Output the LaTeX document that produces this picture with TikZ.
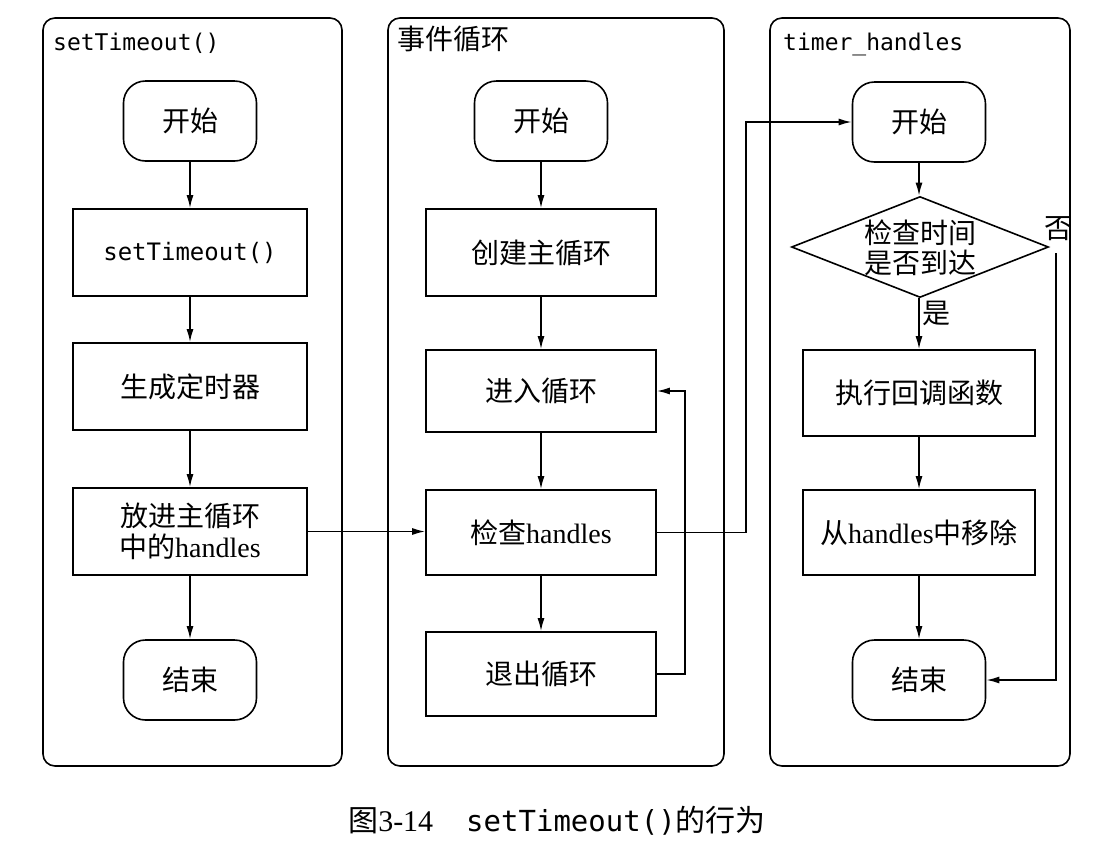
\documentclass[tikz,border=0pt]{standalone}
\usepackage{fontspec}
\setmainfont{Liberation Serif}
\setmonofont{DejaVu Sans Mono}
\newfontfamily\cjk{Noto Sans CJK SC}
\usetikzlibrary{shapes.geometric,arrows.meta}
\begin{document}
\begin{tikzpicture}[x=1pt,y=-1pt,
  lane/.style={draw, line width=1.6pt, rounded corners=12pt, inner sep=0pt},
  box/.style={draw, line width=1.6pt, minimum width=234pt, minimum height=87pt, inner sep=0pt,
    font=\fontsize{28}{31}\selectfont, align=center},
  term/.style={draw, line width=1.6pt, rounded corners=22pt, minimum width=133pt, minimum height=80pt,
    inner sep=0pt, font=\fontsize{28}{31}\selectfont},
  dia/.style={draw, diamond, line width=1.6pt, minimum width=257pt, minimum height=101pt, inner sep=0pt},
  txt/.style={font=\fontsize{28}{30}\selectfont, align=center, inner sep=0pt},
  ttl/.style={anchor=base west, inner sep=0pt},
  arr/.style={-{Latex[length=13pt,width=7pt]}, line width=1.6pt},
  ln/.style={line width=1.6pt}
]
\useasboundingbox (0,0) rectangle (1118,852);
% lanes
\node[lane, minimum width=299pt, minimum height=748pt] (L1) at (192.5,392) {};
\node[lane, minimum width=336pt, minimum height=748pt] (L2) at (556,392) {};
\node[lane, minimum width=300pt, minimum height=748pt] (L3) at (920,392) {};
\node[ttl, font=\ttfamily\fontsize{23}{25}\selectfont] (T1) at (53,50) {setTimeout()};
\node[ttl, font=\fontsize{28}{30}\selectfont] (T2) at (397,49) {\cjk 事件循环};
\node[ttl, font=\ttfamily\fontsize{23}{25}\selectfont] (T3) at (783,50) {timer\_handles};

% lane 1
\node[term] (s1) at (190,121) {\cjk 开始};
\node[box, font=\ttfamily\fontsize{24}{26}\selectfont] (s2) at (190,252.5) {setTimeout()};
\node[box] (s3) at (190,386.5) {\cjk 生成定时器};
\node[box] (s4) at (190,531.5) {{\cjk 放进主循环}\\{\cjk 中的}handles};
\node[term] (s5) at (190,680) {\cjk 结束};
\draw[arr] (s1) -- (s2);
\draw[arr] (s2) -- (s3);
\draw[arr] (s3) -- (s4);
\draw[arr] (s4) -- (s5);

% lane 2
\node[term] (e1) at (541,121) {\cjk 开始};
\node[box, minimum width=230pt] (e2) at (541,252.5) {\cjk 创建主循环};
\node[box, minimum width=230pt, minimum height=82pt] (e3) at (541,391) {\cjk 进入循环};
\node[box, minimum width=230pt, minimum height=85pt] (e4) at (541,532.5) {{\cjk 检查}handles};
\node[box, minimum width=230pt, minimum height=84pt] (e5) at (541,674) {\cjk 退出循环};
\draw[arr] (e1) -- (e2);
\draw[arr] (e2) -- (e3);
\draw[arr] (e3) -- (e4);
\draw[arr] (e4) -- (e5);
\draw[arr] (e5.east) -- ++(28,0) |- (e3.east);
\draw[arr] (s4.east) -- (s4.east -| e4.west);

% lane 3
\node[term] (t1) at (919,122) {\cjk 开始};
\node[dia] (d) at (920,247) {};
\node[txt] (dt) at (920,248) {{\cjk 检查时间}\\{\cjk 是否到达}};
\node[box, minimum width=232pt, minimum height=86pt] (t3) at (919,393) {\cjk 执行回调函数};
\node[box, minimum width=232pt, minimum height=85pt] (t4) at (919,532.5) {{\cjk 从}handles{\cjk 中移除}};
\node[term] (t5) at (919,680) {\cjk 结束};
\draw[arr] (e4.east) -- ++(89,0) |- (t1.west);
\draw[arr] (t1.south) -- (t1.south |- d.north);
\draw[arr] (t1.south |- d.south) -- node[pos=0.3, anchor=west, txt, xshift=3pt] (yes) {\cjk 是} (t3.north);
\draw[arr] (t3) -- (t4);
\draw[arr] (t4) -- (t5);
\node[txt] (no) at (1058,229) {\cjk 否};
\coordinate (nostart) at (1056,253);
\draw[arr] (nostart) |- (t5.east);

% caption
\node[anchor=base, inner sep=0pt, font=\fontsize{30}{32}\selectfont] (cap) at (557,831)
  {{\cjk 图}3-14\hspace{1.1em}{\ttfamily\fontsize{29}{30}\selectfont setTimeout()}{\cjk 的行为}};
\end{tikzpicture}
\end{document}
